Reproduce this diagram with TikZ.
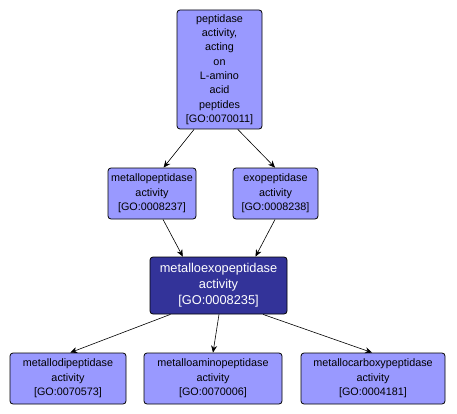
\documentclass[tikz,border=0pt]{standalone}
\usepackage{fontspec}
\setmainfont{Liberation Sans}
\usepackage{tikz}
\usetikzlibrary{arrows.meta, positioning}
\definecolor{golight}{HTML}{9999FF}
\definecolor{godark}{HTML}{333399}

\begin{document}
\begin{tikzpicture}[
    x=1pt, y=-1pt,
    font=\fontsize{10.8}{14.3}\selectfont,
    term/.style={rectangle, rounded corners=3pt, draw=black, fill=golight, line width=0.8pt, align=center, inner sep=2pt, minimum height=51pt},
    focus/.style={rectangle, rounded corners=3pt, draw=black, fill=godark, text=white, line width=0.8pt, align=center, inner sep=2pt, minimum height=57pt, font=\fontsize{12.8}{16}\selectfont},
    arrow/.style={-{Stealth[length=7pt, width=6pt]}, line width=0.6pt, color=black}
]
    \useasboundingbox (0,0) rectangle (457,414);

    \node[term, minimum width=85pt, minimum height=119pt] (acting) at (219.5,69.5) {peptidase\\activity,\\acting\\on\\L-amino\\acid\\peptides\\{[GO:0070011]}};
    \node[term, minimum width=88pt] (metallo) at (152,193.5) {metallopeptidase\\activity\\{[GO:0008237]}};
    \node[term, minimum width=85pt] (exo) at (275.5,193.5) {exopeptidase\\activity\\{[GO:0008238]}};
    \node[focus, minimum width=137pt] (metalloexo) at (218.5,285.5) {metalloexopeptidase\\activity\\{[GO:0008235]}};
    \node[term, minimum width=116pt] (dipep) at (68,378.5) {metallodipeptidase\\activity\\{[GO:0070573]}};
    \node[term, minimum width=138pt] (aminopep) at (213,378.5) {metalloaminopeptidase\\activity\\{[GO:0070006]}};
    \node[term, minimum width=144pt] (carboxypep) at (373,378.5) {metallocarboxypeptidase\\activity\\{[GO:0004181]}};

    \draw[arrow] (acting.247.6) -- (metallo.66.7);
    \draw[arrow] (acting.287.3) -- (exo.91);
    \draw[arrow] (metallo.293.3) -- (metalloexo.141.2);
    \draw[arrow] (exo.269) -- (metalloexo.38.8);
    \draw[arrow] (metalloexo.211.5) -- (dipep.85.5);
    \draw[arrow] (metalloexo.271) -- (aminopep.north);
    \draw[arrow] (metalloexo.327.4) -- (carboxypep.92);
\end{tikzpicture}
\end{document}
